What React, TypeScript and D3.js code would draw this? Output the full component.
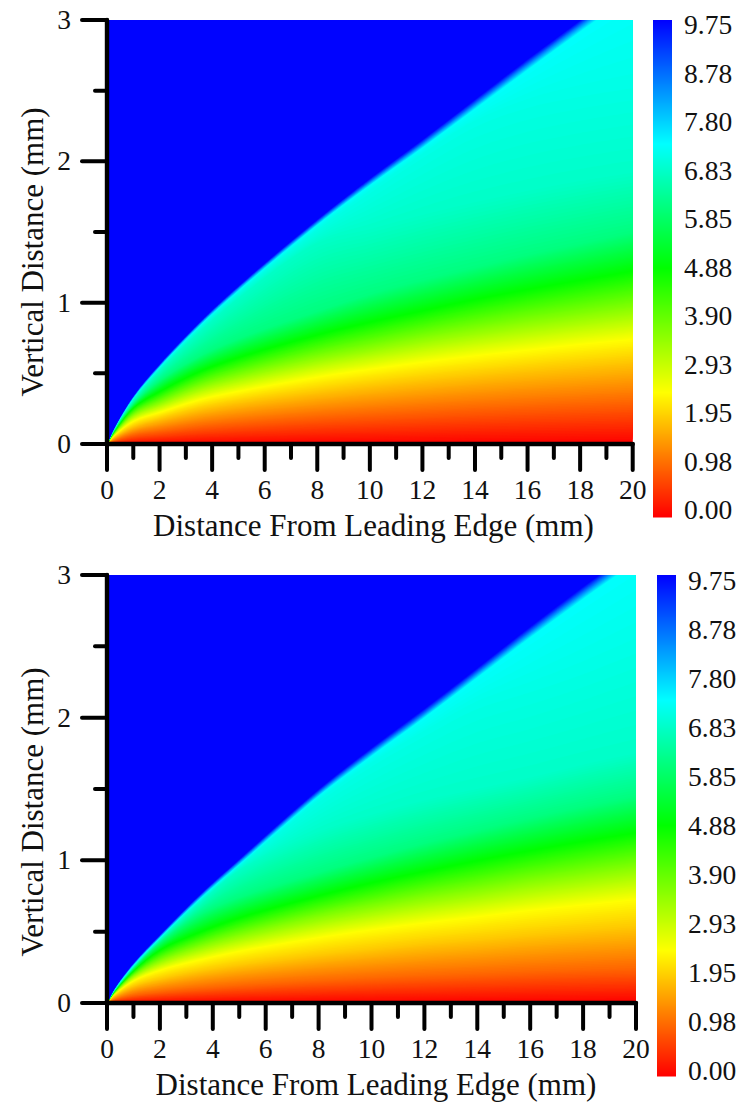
import React from "react";
import * as d3 from "d3";

// x stations (mm) at which the iso-value heights were read
const stations = [0, 0.25, 1, 2, 3.5, 5, 8, 10, 12, 14, 16, 18, 20];
// values of the iso-lines
const levels = [0, 0.98, 1.95, 2.44, 3.66, 4.88, 6.1, 6.8, 7.1, 7.31, 8.5, 9.75];

// heights (mm) of each iso-line at the stations, upper panel
const topContours = [
  [0, 0, 0, 0, 0, 0, 0, 0, 0, 0, 0, 0, 0],
  [0, 0.022, 0.065, 0.09, 0.125, 0.15, 0.19, 0.21, 0.23, 0.25, 0.265, 0.28, 0.295],
  [0, 0.045, 0.125, 0.18, 0.25, 0.3, 0.375, 0.42, 0.46, 0.495, 0.53, 0.56, 0.59],
  [0, 0.055, 0.16, 0.222, 0.31, 0.37, 0.47, 0.525, 0.575, 0.62, 0.66, 0.7, 0.735],
  [0, 0.07, 0.21, 0.295, 0.41, 0.49, 0.62, 0.69, 0.76, 0.82, 0.875, 0.925, 0.975],
  [0, 0.08, 0.255, 0.37, 0.51, 0.61, 0.77, 0.86, 0.94, 1.02, 1.09, 1.155, 1.22],
  [0, 0.09, 0.285, 0.45, 0.62, 0.745, 0.94, 1.06, 1.16, 1.25, 1.34, 1.42, 1.5],
  [0, 0.095, 0.31, 0.52, 0.79, 1.03, 1.42, 1.52, 1.62, 1.71, 1.79, 1.86, 1.92],
  [0, 0.098, 0.32, 0.535, 0.82, 1.07, 1.52, 1.79, 2.05, 2.28, 2.42, 2.5, 2.56],
  [0, 0.1, 0.325, 0.545, 0.832, 1.085, 1.55, 1.83, 2.095, 2.37, 2.645, 2.915, 3.18],
  [0, 0.104, 0.335, 0.557, 0.848, 1.105, 1.57, 1.855, 2.125, 2.405, 2.685, 2.96, 3.23],
  [0, 0.108, 0.342, 0.567, 0.86, 1.12, 1.59, 1.88, 2.155, 2.44, 2.725, 3.0, 3.28],
];

// heights (mm) of each iso-line at the stations, lower panel
const bottomContours = [
  [0, 0, 0, 0, 0, 0, 0, 0, 0, 0, 0, 0, 0],
  [0, 0.022, 0.054, 0.076, 0.1, 0.12, 0.152, 0.17, 0.186, 0.2, 0.215, 0.228, 0.24],
  [0, 0.045, 0.12, 0.17, 0.226, 0.27, 0.34, 0.38, 0.42, 0.45, 0.484, 0.513, 0.54],
  [0, 0.055, 0.155, 0.228, 0.3, 0.36, 0.455, 0.51, 0.557, 0.6, 0.645, 0.683, 0.72],
  [0, 0.065, 0.195, 0.3, 0.4, 0.48, 0.61, 0.68, 0.745, 0.8, 0.86, 0.91, 0.96],
  [0, 0.072, 0.225, 0.37, 0.495, 0.595, 0.75, 0.84, 0.92, 0.995, 1.065, 1.13, 1.19],
  [0, 0.078, 0.245, 0.425, 0.62, 0.74, 0.915, 1.02, 1.12, 1.21, 1.295, 1.375, 1.45],
  [0, 0.082, 0.255, 0.445, 0.7, 0.93, 1.2, 1.32, 1.42, 1.5, 1.58, 1.67, 1.75],
  [0, 0.085, 0.26, 0.452, 0.72, 0.96, 1.42, 1.68, 1.9, 2.1, 2.22, 2.35, 2.5],
  [0, 0.087, 0.265, 0.458, 0.728, 0.97, 1.45, 1.73, 2.0, 2.28, 2.56, 2.83, 3.09],
  [0, 0.091, 0.275, 0.47, 0.745, 0.992, 1.475, 1.76, 2.03, 2.315, 2.6, 2.875, 3.14],
  [0, 0.095, 0.282, 0.48, 0.76, 1.01, 1.5, 1.79, 2.065, 2.35, 2.64, 2.92, 3.19],
];

const colorValues = [0, 2.4375, 4.875, 7.3125, 9.75];
const colorNames = ["#ff0000", "#ffff00", "#00ff00", "#00ffff", "#0000ff"];
const colorbarLabels = ["0.00", "0.98", "1.95", "2.93", "3.90", "4.88", "5.85", "6.83", "7.80", "8.78", "9.75"];
const xMajorTicks = [0, 2, 4, 6, 8, 10, 12, 14, 16, 18, 20];
const xMinorTicks = [1, 3, 5, 7, 9, 11, 13, 15, 17, 19];
const yMajorTicks = [0, 1, 2, 3];
const yMinorTicks = [0.5, 1.5, 2.5];
const xTitle = "Distance From Leading Edge (mm)";
const yTitle = "Vertical Distance (mm)";

const FONT = "'Liberation Serif', 'Times New Roman', serif";
const color = d3.scaleLinear<string>().domain(colorValues).range(colorNames).interpolate(d3.interpolateRgb).clamp(true);
const fineLevels = d3.range(0.04, 9.751, 0.04);

type PanelProps = {
  id: string;
  contours: number[][];
  x0: number; x1: number; y0: number; y1: number;
  barX: number; barBottom: number;
  labelX: number; labelTop: number; labelBottom: number;
  tickBaseline: number; titleBaseline: number; titleX: number; yTitleY: number;
};

function Panel(p: PanelProps) {
  const x = d3.scaleLinear().domain([0, 20]).range([p.x0, p.x1]);
  const y = d3.scaleLinear().domain([0, 3]).range([p.y0, p.y1]);
  const area = d3
    .area<number>()
    .x((_, i) => x(stations[i]))
    .y0((h) => y(h))
    .y1(() => y(3))
    .curve(d3.curveCatmullRom.alpha(0.5));
  const heightAt = stations.map((_, i) =>
    d3.scaleLinear().domain(levels).range(p.contours.map((row) => row[i]))
  );
  const barY = d3.scaleLinear().domain([0, 9.75]).range([p.barBottom, p.y1]);
  const labelY = d3.scaleLinear().domain([0, 10]).range([p.labelBottom, p.labelTop]);
  const barSteps = d3.range(0, Math.round(p.barBottom - p.y1));
  const axisW = 4.4;
  const tickW = 4;
  return (
    <g>
      <defs>
        <clipPath id={p.id}>
          <rect x={p.x0} y={p.y1} width={p.x1 - p.x0} height={p.y0 - p.y1} />
        </clipPath>
      </defs>
      <g clipPath={`url(#${p.id})`}>
        <rect x={p.x0} y={p.y1} width={p.x1 - p.x0} height={p.y0 - p.y1} fill={color(0)} />
        {fineLevels.map((v) => (
          <path key={v} d={area(heightAt.map((h) => h(v))) || ""} fill={color(v)} />
        ))}
      </g>
      {barSteps.map((i) => (
        <rect key={i} x={p.barX} y={p.y1 + i} width={19} height={1.5}
          fill={color(barY.invert(p.y1 + i + 0.5))} />
      ))}
      <g stroke="#000" strokeLinecap="round" fill="none">
        {xMajorTicks.map((t) => (
          <line key={t} x1={x(t)} x2={x(t)} y1={p.y0} y2={p.y0 + 26} strokeWidth={tickW} />
        ))}
        {xMinorTicks.map((t) => (
          <line key={t} x1={x(t)} x2={x(t)} y1={p.y0} y2={p.y0 + 14} strokeWidth={tickW} />
        ))}
        {yMajorTicks.map((t) => (
          <line key={t} x1={p.x0} x2={p.x0 - 25} y1={y(t)} y2={y(t)} strokeWidth={tickW} />
        ))}
        {yMinorTicks.map((t) => (
          <line key={t} x1={p.x0} x2={p.x0 - 12} y1={y(t)} y2={y(t)} strokeWidth={tickW} />
        ))}
        <line x1={p.x0} x2={p.x0} y1={p.y0} y2={p.y1} strokeWidth={axisW} />
        <line x1={p.x0} x2={p.x1} y1={p.y0} y2={p.y0} strokeWidth={axisW} />
      </g>
      <g fontFamily={FONT} fontSize={27.5} fill="#111">
        {xMajorTicks.map((t) => (
          <text key={t} x={x(t)} y={p.tickBaseline} textAnchor="middle">{t}</text>
        ))}
        {yMajorTicks.map((t) => (
          <text key={t} x={71} y={y(t) + 9} textAnchor="end">{t}</text>
        ))}
        {colorbarLabels.map((l, i) => (
          <text key={l} x={p.labelX} y={labelY(i) + 9}>{l}</text>
        ))}
      </g>
      <g fontFamily={FONT} fontSize={31} fill="#111">
        <text x={p.titleX} y={p.titleBaseline} textAnchor="middle">{xTitle}</text>
        <text transform={`translate(43,${p.yTitleY}) rotate(-90)`} textAnchor="middle">{yTitle}</text>
      </g>
    </g>
  );
}

export default function App() {
  return (
    <svg width={738} height={1106} style={{ position: "absolute", left: 0, top: 0, display: "block", background: "#fff" }}>
      <Panel id="clipTop" contours={topContours} x0={107} x1={632.7} y0={444} y1={20}
        barX={653} barBottom={516.5} labelX={684} labelTop={25} labelBottom={510}
        tickBaseline={498.5} titleBaseline={536} titleX={373.5} yTitleY={252} />
      <Panel id="clipBottom" contours={bottomContours} x0={107} x1={636} y0={1003} y1={575}
        barX={657} barBottom={1076} labelX={688} labelTop={581} labelBottom={1071}
        tickBaseline={1058} titleBaseline={1095} titleX={376} yTitleY={812} />
    </svg>
  );
}
